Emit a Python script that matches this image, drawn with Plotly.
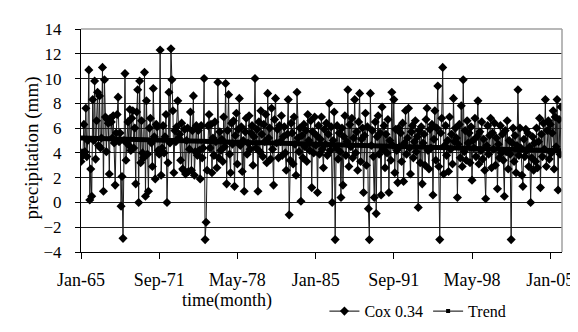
import pandas as pd
import plotly.graph_objects as go

# Monthly precipitation (Cox 0.34 transformed), Jan 1965 - Dec 2005
precip_cox = [
    3.3, 4.0, 3.8, 6.3, 4.1, 7.6, 3.7, 5.0, 10.7, 0.2, 2.7, 0.5,
    8.3, 5.0, 9.8, 3.5, 6.6, 8.9, 4.6, 8.6, 4.4, 5.2, 10.9, 0.9,
    9.9, 6.9, 4.1, 6.7, 6.4, 2.3, 6.8, 6.5, 5.2, 7.0, 4.8, 1.4,
    5.6, 7.1, 8.5, 4.9, 5.6, -0.3, 2.1, -2.9, 5.0, 10.4, 3.4, 4.8,
    6.5, 4.6, 7.5, 4.2, 6.8, 7.4, 4.4, 6.0, 1.5, 7.3, 9.1, 0.0,
    9.8, 3.2, 6.6, 4.0, 3.6, 10.5, 0.5, 8.2, 3.9, 0.9, 6.0, 6.8,
    4.8, 2.9, 9.2, 5.3, 1.9, 6.3, 6.1, 4.2, 3.9, 12.3, 2.2, 4.4,
    6.2, 4.0, 5.3, 7.1, 0.0, 3.2, 8.9, 4.8, 12.4, 9.9, 7.4, 2.4,
    5.8, 4.9, 6.1, 8.2, 5.2, 5.5, 3.4, 6.4, 2.7, 2.6, 5.9, 2.3,
    5.0, 6.0, 2.5, 4.3, 7.3, 2.6, 5.8, 8.6, 2.2, 4.1, 6.2, 3.8,
    5.8, 4.2, 1.9, 6.2, 3.6, 4.4, 10.0, -3.0, -1.6, 2.6, 6.2, 7.1,
    4.4, 6.3, 2.4, 5.2, 3.8, 6.5, 4.9, 2.8, 9.7, 3.6, 5.7, 4.2,
    5.1, 3.3, 6.9, 4.5, 9.6, 1.5, 5.8, 8.7, 3.9, 2.4, 6.4, 4.7,
    6.6, 1.3, 5.4, 7.2, 3.1, 5.9, 8.4, 4.6, 6.1, 2.5, 5.0, 0.9,
    5.7, 6.8, 3.9, 4.8, 7.0, 4.3, 5.6, 6.2, 3.0, 5.3, 10.0, 4.4,
    5.9, 0.9, 6.5, 4.1, 7.4, 5.5, 3.7, 6.3, 4.9, 7.1, 3.2, 8.8,
    5.2, 6.0, 3.5, 7.6, 4.3, 1.4, 6.7, 8.4, 4.8, 5.9, 3.6, 6.2,
    4.9, 7.0, 3.8, 5.3, 6.1, 4.0, 2.6, 5.5, 8.3, -1.0, 3.4, 6.4,
    5.6, 3.1, 6.9, 4.7, 2.2, 8.9, 5.2, 4.1, 6.0, 0.1, 5.4, 3.6,
    6.3, 4.5, 5.8, 3.3, 7.1, 5.0, 4.2, 6.6, 1.2, 5.7, 4.0, 6.9,
    4.6, 5.4, 0.8, 6.2, 3.9, 5.1, 6.9, 4.3, 2.8, 5.9, 4.7, 6.4,
    3.8, 5.5, 8.0, 4.2, 6.1, 0.0, 5.0, 7.3, -3.0, 4.4, 6.2, 3.5,
    5.6, 4.1, 0.4, 6.0, 1.4, 5.3, 7.0, 3.8, 4.9, 9.1, 2.9, 6.3,
    4.5, 6.8, 3.6, 5.2, 8.3, 4.0, 5.7, 2.6, 6.5, 8.8, 3.3, 5.1,
    6.0, 0.8, 5.4, 7.2, 3.0, 6.1, -0.5, -3.0, 8.8, 4.6, 5.8, 3.7,
    0.4, 6.5, -0.9, 5.3, 7.0, 3.9, 5.6, 0.6, 7.7, 4.3, 6.2, 2.8,
    5.5, 4.0, 6.7, 0.8, 5.0, 3.4, 8.9, 4.6, 8.3, 2.4, 5.9, 4.2,
    1.6, 6.0, 4.5, 5.6, 3.3, 6.4, 1.7, 4.8, 7.4, 3.9, 5.2, 7.6,
    4.4, 2.3, 5.7, 6.2, 3.6, 4.9, 6.6, 4.1, 5.3, -0.4, 5.8, 3.2,
    6.1, 1.5, 4.8, 5.5, 3.0, 6.7, 7.6, 4.2, 2.7, 5.9, 4.4, 6.3,
    0.6, 5.1, 7.4, 3.4, 6.0, 9.4, 2.9, -3.0, 5.6, 6.8, 10.9, 2.3,
    4.6, 6.2, 3.8, 5.0, 2.5, 6.9, 4.3, 5.5, 3.1, 8.4, 4.9, 6.0,
    5.2, 0.4, 4.7, 6.3, 3.6, 7.8, 2.9, 9.9, 4.1, 5.8, 3.4, 6.6,
    4.8, 5.6, 3.2, 6.1, 1.8, 5.0, 4.4, 6.8, 3.7, 5.3, 8.2, 3.1,
    5.7, 4.2, 6.5, 3.5, 5.1, 2.6, 0.3, 4.6, 6.2, 3.9, 5.4, 6.8,
    2.8, 5.6, 4.3, 6.4, 3.0, 5.2, 1.1, 4.7, 3.6, 6.2, 4.0, 5.5,
    3.4, 0.5, 5.8, 4.1, 6.6, 2.7, 5.0, 3.9, -3.0, 4.8, 6.0, 3.3,
    5.4, 2.4, 4.6, 9.1, 3.8, 6.0, 4.4, 2.2, 1.3, 5.1, 3.7, 5.9,
    4.2, 5.6, 2.9, 4.5, 0.0, 3.6, 5.3, 2.6, 4.8, 3.3, 6.0, 2.8,
    4.9, 6.8, 1.2, 5.5, 3.7, 6.4, 4.3, 8.3, 2.9, 5.8, 6.6, 3.5,
    6.3, 4.0, 5.6, 7.4, 2.7, 6.9, 4.5, 8.3, 1.0, 6.7, 3.9, 7.7,
]
start_month = "1965-01-01"
months = pd.date_range(start_month, periods=len(precip_cox), freq="MS")

# Linear trend end values
trend_values = [5.2, 4.17]
trend_dates = [months[0], months[-1]]

tick_dates = ["1965-01-01", "1971-09-01", "1978-05-01", "1985-01-01",
              "1991-09-01", "1998-05-01", "2005-01-01"]
tick_labels = ["Jan-65", "Sep-71", "May-78", "Jan-85", "Sep-91", "May-98", "Jan-05"]
y_ticks = list(range(-4, 15, 2))

FONT = "Liberation Serif"
L, R, T, B = 73, 13, 16, 75
W, H = 578, 332
PW, PH = W - L - R, H - T - B

fig = go.Figure()
fig.add_trace(go.Scatter(
    x=months, y=precip_cox, mode="lines+markers", showlegend=False,
    line=dict(color="#1a1a1a", width=1),
    marker=dict(symbol="diamond", size=7, color="black"),
))
fig.add_trace(go.Scatter(
    x=trend_dates, y=trend_values, mode="lines", showlegend=False,
    line=dict(color="black", width=5),
))
# legend entries
fig.add_trace(go.Scatter(
    x=[None], y=[None], mode="lines+markers", name="Cox 0.34",
    line=dict(color="black", width=1),
    marker=dict(symbol="diamond", size=7, color="black"),
))
fig.add_trace(go.Scatter(
    x=[None], y=[None], mode="lines+markers", name="Trend",
    line=dict(color="black", width=1),
    marker=dict(symbol="square", size=4, color="black"),
))

def px_x(px):
    return (px - L) / PW

def px_y(py):
    return (H - B - py) / PH

fig.update_layout(
    width=W, height=H,
    margin=dict(l=L, r=R, t=T, b=B),
    paper_bgcolor="white", plot_bgcolor="white",
    font=dict(family=FONT, size=18, color="black"),
    legend=dict(orientation="h", x=px_x(322), y=px_y(321), xanchor="left", yanchor="middle",
                font=dict(family=FONT, size=16, color="black"),
                bgcolor="rgba(0,0,0,0)", itemwidth=30),
    xaxis=dict(
        type="date", range=["1965-01-01", "2006-01-01"],
        tickvals=tick_dates, ticktext=tick_labels,
        showgrid=False, zeroline=False,
        showline=True, linecolor="black", linewidth=1,
        ticks="outside", ticklen=6, tickcolor="black",
        ticklabelstandoff=5,
        tickfont=dict(family=FONT, size=18, color="black"),
    ),
    yaxis=dict(
        range=[-4, 14], tickvals=y_ticks,
        showgrid=True, gridcolor="#1a1a1a", gridwidth=1, zeroline=False,
        showline=True, linecolor="black", linewidth=1,
        ticks="outside", ticklen=5, tickcolor="black",
        ticklabelstandoff=10,
        tickfont=dict(family=FONT, size=17, color="black"),
    ),
    shapes=[
        dict(type="line", xref="paper", yref="paper", x0=0, x1=1, y0=1, y1=1,
             line=dict(color="#a0a0a0", width=1.5), layer="above"),
        dict(type="line", xref="paper", yref="paper", x0=1, x1=1, y0=0, y1=1,
             line=dict(color="#a0a0a0", width=1.5), layer="above"),
    ],
    annotations=[
        dict(text="time(month)", xref="paper", yref="paper", x=px_x(222), y=px_y(309),
             xanchor="center", yanchor="middle", showarrow=False,
             font=dict(family=FONT, size=18, color="black")),
        dict(text="precipitation (mm)", xref="paper", yref="paper", x=px_x(23), y=px_y(145),
             xanchor="center", yanchor="middle", textangle=-90, showarrow=False,
             font=dict(family=FONT, size=19, color="black")),
    ],
)

fig.write_html("out.html")
